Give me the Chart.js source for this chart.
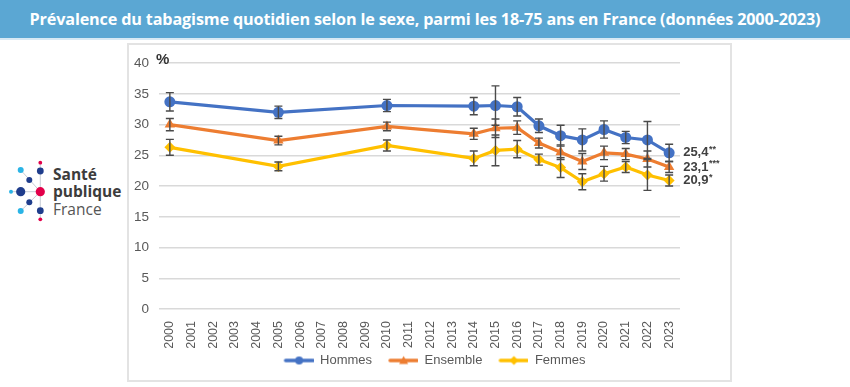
<!DOCTYPE html>
<html lang="fr">
<head>
<meta charset="utf-8">
<script src="https://cdn.jsdelivr.net/npm/chart.js@4"></script>
<style>
  html, body { margin: 0; padding: 0; background: #fff; }
  body { width: 850px; height: 387px; position: relative; overflow: hidden; font-family: "Liberation Sans", Arial, sans-serif; }
  #titleBar {
    position: absolute; left: 0; top: 0; width: 850px; height: 38px;
    background: #5ba7d3; border-bottom: 2px solid #d7e9f4;
    color: #fff; font-family: "Open Sans", sans-serif; font-weight: 700; font-size: 16.2px;
    line-height: 38px; text-align: center; letter-spacing: -0.15px;
  }
  #chartBox {
    position: absolute; left: 127px; top: 43px; width: 601px; height: 335px;
    border: 2px solid #e3e3e3;
  }
  #logo { position: absolute; left: 0; top: 150px; }
</style>
</head>
<body>
<div id="titleBar">Prévalence du tabagisme quotidien selon le sexe, parmi les 18-75 ans en France (données 2000-2023)</div>

<svg id="logo" width="130" height="80" viewBox="0 0 130 80">
  <g stroke="#b9bfcc" stroke-width="0.8">
    <line x1="40.3" y1="12.7" x2="40.3" y2="69.3"/>
    <line x1="40.3" y1="41.7" x2="20.7" y2="20"/>
    <line x1="40.3" y1="41.7" x2="20.7" y2="61"/>
    <line x1="40.3" y1="41.7" x2="11" y2="41.7"/>
  </g>
  <circle cx="40.3" cy="12.7" r="1.9" fill="#e2004a"/>
  <circle cx="40.3" cy="21" r="3.4" fill="#1f3d8c"/>
  <circle cx="20.7" cy="20" r="3" fill="#2ab4e6"/>
  <circle cx="29.3" cy="30" r="3" fill="#1f3d8c"/>
  <circle cx="20.7" cy="41.7" r="4.6" fill="#1f3d8c"/>
  <circle cx="11" cy="41.7" r="2" fill="#2ab4e6"/>
  <circle cx="40.3" cy="41.7" r="4.6" fill="#e2004a"/>
  <circle cx="29.3" cy="52.3" r="3" fill="#1f3d8c"/>
  <circle cx="20.7" cy="61" r="3" fill="#2ab4e6"/>
  <circle cx="40.3" cy="60.7" r="3.4" fill="#1f3d8c"/>
  <circle cx="40.3" cy="69.3" r="1.9" fill="#e2004a"/>
  <text x="53" y="30" font-family="Open Sans, sans-serif" font-weight="700" font-size="15.5" fill="#3c3c3c">Santé</text>
  <text x="53" y="47" font-family="Open Sans, sans-serif" font-weight="700" font-size="15.5" fill="#3c3c3c">publique</text>
  <text x="53" y="65" font-family="Open Sans, sans-serif" font-size="15.5" fill="#555">France</text>
</svg>

<div id="chartBox"><canvas id="tabacChart" width="601" height="335"></canvas></div>

<script>
// années (axe des x)
const years = ["2000","2001","2002","2003","2004","2005","2006","2007","2008","2009","2010","2011",
  "2012","2013","2014","2015","2016","2017","2018","2019","2020","2021","2022","2023"];
const yTicks = [0, 5, 10, 15, 20, 25, 30, 35, 40];

// prévalences (%)
const hommes   = [33.7, null, null, null, null, 32.0, null, null, null, null, 33.1, null, null, null, 33.0, 33.1, 32.9, 29.8, 28.2, 27.5, 29.2, 27.9, 27.5, 25.4];
const ensemble = [30.0, null, null, null, null, 27.4, null, null, null, null, 29.7, null, null, null, 28.5, 29.4, 29.5, 27.0, 25.5, 24.0, 25.4, 25.2, 24.4, 23.1];
const femmes   = [26.3, null, null, null, null, 23.2, null, null, null, null, 26.6, null, null, null, 24.5, 25.8, 26.0, 24.3, 23.0, 20.7, 22.0, 23.1, 21.8, 20.9];

// intervalles de confiance (±)
const hommesErr   = [1.5, null, null, null, null, 1.0, null, null, null, null, 1.0, null, null, null, 1.4, 3.2, 1.5, 1.1, 1.7, 1.8, 1.4, 1.0, 3.0, 1.4];
const ensembleErr = [1.0, null, null, null, null, 0.7, null, null, null, null, 0.7, null, null, null, 0.9, 1.5, 1.1, 0.8, 1.2, 1.3, 1.1, 0.9, 1.3, 0.9];
const femmesErr   = [1.3, null, null, null, null, 0.7, null, null, null, null, 0.9, null, null, null, 1.2, 2.5, 1.4, 0.9, 1.6, 1.3, 1.2, 0.9, 2.5, 0.9];

// étiquettes de fin de série
const endValues = ["25,4", "23,1", "20,9"];
const endStars = ["**", "***", "*"];

const BLUE = "#4472c4", ORANGE = "#ed7d31", YELLOW = "#ffc000";
const AXIS_FONT = "'Liberation Sans', Arial, sans-serif";

// icône de légende : trait + marqueur, avec un blanc à gauche pour espacer les entrées
function legendIcon(color, style) {
  const c = document.createElement("canvas");
  c.width = 40; c.height = 12;
  const g = c.getContext("2d");
  const cx = 25.5;
  g.strokeStyle = color; g.fillStyle = color; g.lineWidth = 3.5; g.lineCap = "round";
  g.beginPath(); g.moveTo(12, 6); g.lineTo(39, 6); g.stroke();
  g.beginPath();
  if (style === "circle") g.arc(cx, 6, 4, 0, Math.PI * 2);
  if (style === "triangle") { g.moveTo(cx, 1.5); g.lineTo(cx + 4.5, 9.5); g.lineTo(cx - 4.5, 9.5); g.closePath(); }
  if (style === "rectRot") { g.moveTo(cx, 1.5); g.lineTo(cx + 4.5, 6); g.lineTo(cx, 10.5); g.lineTo(cx - 4.5, 6); g.closePath(); }
  g.fill();
  return c;
}

const errorBars = {
  id: "errorBars",
  afterDatasetsDraw(chart) {
    const { ctx, scales: { y } } = chart;
    const errs = [hommesErr, ensembleErr, femmesErr];
    ctx.save();
    ctx.strokeStyle = "#4a4a4a";
    ctx.lineWidth = 1.4;
    chart.data.datasets.forEach((ds, i) => {
      const meta = chart.getDatasetMeta(i);
      ds.data.forEach((v, j) => {
        if (v == null || errs[i][j] == null) return;
        const x = meta.data[j].x;
        const top = y.getPixelForValue(v + errs[i][j]);
        const bot = y.getPixelForValue(v - errs[i][j]);
        ctx.beginPath();
        ctx.moveTo(x, top); ctx.lineTo(x, bot);
        ctx.moveTo(x - 4, top); ctx.lineTo(x + 4, top);
        ctx.moveTo(x - 4, bot); ctx.lineTo(x + 4, bot);
        ctx.stroke();
      });
    });
    ctx.restore();
  }
};

const endLabels = {
  id: "endLabels",
  afterDatasetsDraw(chart) {
    const { ctx } = chart;
    ctx.save();
    ctx.fillStyle = "#404040";
    ctx.textBaseline = "middle";
    chart.data.datasets.forEach((ds, i) => {
      const meta = chart.getDatasetMeta(i);
      const pt = meta.data[meta.data.length - 1];
      const x = pt.x + 14;
      ctx.font = "bold 13px " + AXIS_FONT;
      ctx.fillText(endValues[i], x, pt.y);
      const w = ctx.measureText(endValues[i]).width;
      ctx.font = "bold 9px " + AXIS_FONT;
      ctx.fillText(endStars[i], x + w + 0.5, pt.y - 3);
    });
    ctx.restore();
  }
};

const percentLabel = {
  id: "percentLabel",
  afterDraw(chart) {
    const { ctx, chartArea, scales: { y } } = chart;
    ctx.save();
    ctx.fillStyle = "#333";
    ctx.font = "bold 15px " + AXIS_FONT;
    ctx.textBaseline = "bottom";
    ctx.fillText("%", chartArea.left - 3, y.getPixelForValue(40) + 4);
    ctx.restore();
  }
};

function series(label, data, color, style, radius) {
  return {
    label, data,
    borderColor: color, backgroundColor: color,
    borderWidth: 3.2,
    pointStyle: style, pointRadius: radius, pointBorderWidth: 0,
    pointBackgroundColor: color,
    spanGaps: true, tension: 0,
    legendIcon: legendIcon(color, style)
  };
}

const chart = new Chart(document.getElementById("tabacChart"), {
  type: "line",
  data: {
    labels: years,
    datasets: [
      series("Hommes", hommes, BLUE, "circle", 5.5),
      series("Ensemble", ensemble, ORANGE, "triangle", 6),
      series("Femmes", femmes, YELLOW, "rectRot", 5.5)
    ]
  },
  options: {
    responsive: false,
    animation: false,
    layout: { padding: { left: 0, right: 0, top: 17, bottom: 3 } },
    plugins: {
      tooltip: { enabled: false },
      legend: {
        position: "bottom",
        labels: {
          usePointStyle: true,
          pointStyleWidth: 40,
          padding: 6,
          color: "#595959",
          font: { family: AXIS_FONT, size: 13 },
          generateLabels(chart) {
            return chart.data.datasets.map((ds, i) => ({
              text: ds.label,
              pointStyle: ds.legendIcon,
              fillStyle: ds.borderColor,
              strokeStyle: ds.borderColor,
              lineWidth: 0,
              hidden: false,
              datasetIndex: i,
              fontColor: "#595959"
            }));
          }
        }
      }
    },
    scales: {
      x: {
        offset: true,
        grid: { display: false },
        border: { display: false },
        afterFit(axis) { axis.height = 39; },
        ticks: {
          color: "#595959", font: { family: AXIS_FONT, size: 12.5 },
          minRotation: 90, maxRotation: 90, autoSkip: false, padding: 4
        }
      },
      y: {
        min: 0, max: 40,
        afterBuildTicks(axis) { axis.ticks = yTicks.map(v => ({ value: v })); },
        afterFit(axis) { axis.width = 30; },
        grid: { color: "#d9d9d9", lineWidth: 1.5, drawTicks: false },
        border: { display: false },
        ticks: { color: "#595959", font: { family: AXIS_FONT, size: 13.5 }, padding: 10 }
      },
      // marge droite pour les étiquettes de fin
      yRight: {
        position: "right",
        min: 0, max: 40,
        grid: { display: false },
        border: { display: false },
        ticks: { display: false },
        afterFit(axis) { axis.width = 50; }
      }
    }
  },
  plugins: [errorBars, endLabels, percentLabel]
});
</script>
</body>
</html>
